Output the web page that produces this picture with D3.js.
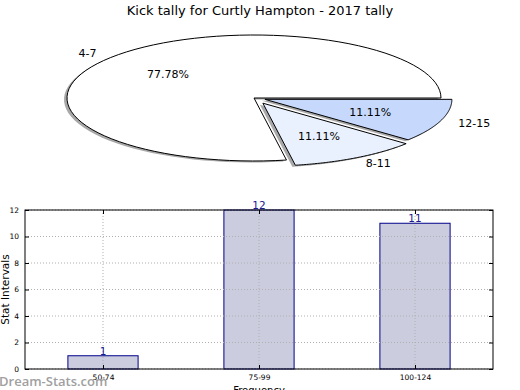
<!DOCTYPE html>
<html><head><meta charset="utf-8">
<script src="https://cdn.jsdelivr.net/npm/d3@7"></script>
<style>body{margin:0;background:#fff}svg{display:block;font-family:"DejaVu Sans",sans-serif}</style>
</head><body><svg id="c" width="520" height="390"></svg>
<script>
const title = "Kick tally for Curtly Hampton - 2017 tally";
const pieLabels = ["4-7", "8-11", "12-15"];
const pieValues = [7, 1, 1];
const pieColors = ["#ffffff", "#eaf1fe", "#c6d9fd"];
const pieExplode = [0, 0.095, 0.062];
const barCats = ["50-74", "75-99", "100-124"];
const barValues = [1, 12, 11];
const yTicks = [0, 2, 4, 6, 8, 10, 12];

const svg = d3.select("#c");
svg.append("text").attr("x", 260).attr("y", 15).attr("text-anchor", "middle")
  .attr("font-size", 13).attr("fill", "#000").text(title);

// ---- pie (elliptical, matplotlib-style: start at 0deg, counterclockwise)
const cx = 254, cy = 98, rx = 187, ry = 63;
const total = d3.sum(pieValues);
const angleScale = d3.scaleLinear().domain([0, total]).range([0, 2 * Math.PI]);
let acc = 0;
const slices = pieValues.map((v, i) => {
  const a0 = angleScale(acc); acc += v; const a1 = angleScale(acc);
  return {i, v, a0, a1, mid: (a0 + a1) / 2};
});
function pt(c, a, r) { return [c[0] + r * rx * Math.cos(a), c[1] - r * ry * Math.sin(a)]; }
function center(s) { const e = pieExplode[s.i]; return pt([cx, cy], s.mid, e); }
function wedgePath(s, c) {
  const p = d3.path();
  p.moveTo(c[0], c[1]);
  const n = 80;
  for (let k = 0; k <= n; k++) {
    const a = s.a0 + (s.a1 - s.a0) * k / n;
    const q = pt(c, a, 1);
    p.lineTo(q[0], q[1]);
  }
  p.closePath();
  return p.toString();
}
const gPie = svg.append("g");
slices.forEach(s => {
  const c = center(s);
  gPie.append("path").attr("d", wedgePath(s, [c[0] - 3, c[1] + 1.5]))
    .attr("fill", "#a8a8a8").attr("stroke", "none");
});
slices.forEach(s => {
  const c = center(s);
  gPie.append("path").attr("d", wedgePath(s, c))
    .attr("fill", pieColors[s.i]).attr("stroke", "#000").attr("stroke-width", 1)
    .attr("stroke-linejoin", "miter");
});
slices.forEach(s => {
  const c = center(s);
  const lp = pt(c, s.mid, 1.1);
  const anchor = Math.cos(s.mid) < 0 ? "end" : "start";
  gPie.append("text").attr("x", lp[0]).attr("y", lp[1]).attr("dy", "0.35em")
    .attr("text-anchor", anchor).attr("font-size", 11).text(pieLabels[s.i]);
  const pp = pt(c, s.mid, 0.6);
  gPie.append("text").attr("x", pp[0]).attr("y", pp[1]).attr("dy", "0.35em")
    .attr("text-anchor", "middle").attr("font-size", 11)
    .text((s.v / total * 100).toFixed(2) + "%");
});

// ---- bar chart
const L = 25, R = 493, T = 210, B = 369;
const x = d3.scaleLinear().domain([-0.5, barCats.length - 0.5]).range([L, R]);
const y = d3.scaleLinear().domain([0, 12]).range([B, T]);
const bw = 0.45;
const g = svg.append("g");
g.selectAll("rect.bar").data(barValues).enter().append("rect")
  .attr("x", (d, i) => x(i - bw / 2)).attr("width", x(bw) - x(0))
  .attr("y", d => y(d)).attr("height", d => B - y(d))
  .attr("fill", "#ccccdf").attr("stroke", "#00008b").attr("stroke-width", 1);
yTicks.forEach(t => {
  g.append("line").attr("x1", L).attr("x2", R).attr("y1", y(t)).attr("y2", y(t))
    .attr("stroke", "#b0b0b0").attr("stroke-dasharray", "1,2").attr("stroke-width", 1);
});
barCats.forEach((c, i) => {
  g.append("line").attr("x1", x(i)).attr("x2", x(i)).attr("y1", T).attr("y2", B)
    .attr("stroke", "#b0b0b0").attr("stroke-dasharray", "1,2").attr("stroke-width", 1);
});
g.append("rect").attr("x", L).attr("y", T).attr("width", R - L).attr("height", B - T)
  .attr("fill", "none").attr("stroke", "#000").attr("stroke-width", 1);
const yAxisL = d3.axisLeft(y).tickValues(yTicks).tickSize(-4).tickPadding(6);
g.append("g").attr("transform", `translate(${L},0)`).call(yAxisL)
  .call(a => a.select(".domain").remove())
  .call(a => a.selectAll("text").attr("font-size", 7.5).attr("fill", "#000").attr("font-family", "DejaVu Sans"))
  .call(a => a.selectAll("line").attr("stroke", "#000"));
const yAxisR = d3.axisRight(y).tickValues(yTicks).tickSize(-4).tickFormat("");
g.append("g").attr("transform", `translate(${R},0)`).call(yAxisR)
  .call(a => a.select(".domain").remove())
  .call(a => a.selectAll("line").attr("stroke", "#000"));
const xAxisB = d3.axisBottom(x).tickValues(d3.range(barCats.length)).tickFormat(i => barCats[i]).tickSize(-4).tickPadding(6);
g.append("g").attr("transform", `translate(0,${B})`).call(xAxisB)
  .call(a => a.select(".domain").remove())
  .call(a => a.selectAll("text").attr("font-size", 7.5).attr("fill", "#000").attr("font-family", "DejaVu Sans"))
  .call(a => a.selectAll("line").attr("stroke", "#000"));
const xAxisT = d3.axisTop(x).tickValues(d3.range(barCats.length)).tickFormat("").tickSize(-4);
g.append("g").attr("transform", `translate(0,${T})`).call(xAxisT)
  .call(a => a.select(".domain").remove())
  .call(a => a.selectAll("line").attr("stroke", "#000"));
g.selectAll("text.val").data(barValues).enter().append("text")
  .attr("x", (d, i) => x(i)).attr("y", d => y(d) - 1)
  .attr("text-anchor", "middle").attr("font-size", 10.5).attr("fill", "#1a1a8c")
  .text(d => d);
svg.append("text").attr("transform", `translate(5,${(T + B) / 2}) rotate(-90)`)
  .attr("text-anchor", "middle").attr("font-size", 10.5).attr("fill", "#000").attr("dy", "0.35em").text("Stat Intervals");
svg.append("text").attr("x", (L + R) / 2).attr("y", 394).attr("text-anchor", "middle")
  .attr("font-size", 10).attr("fill", "#000").text("Frequency");
svg.append("text").attr("x", -1).attr("y", 386).attr("font-size", 13)
  .attr("fill", "#a0a0a0").attr("font-family", "'Open Sans', sans-serif").attr("font-weight", 600).text("Dream-Stats.com");
</script></body></html>
